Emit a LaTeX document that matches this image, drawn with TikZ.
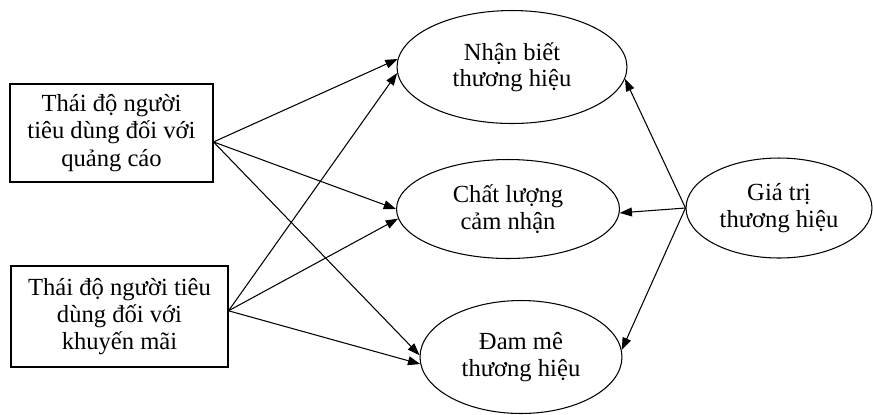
\documentclass[tikz,border=0pt]{standalone}
\usepackage{fontspec}
\setmainfont{Liberation Serif}
\usepackage{tikz}
\usetikzlibrary{shapes.geometric,arrows.meta}
\tikzset{
    attitude-box/.style = {draw, rectangle, line width=0.6pt, align=center, inner sep=0pt, font=\fontsize{14}{15.5}\selectfont},
    brand-oval/.style = {draw, ellipse, line width=0.6pt, align=center, inner sep=0pt, font=\fontsize{14}{15}\selectfont},
    effect-arrow/.style = {-{Triangle[length=7pt,width=5pt]}, line width=0.6pt},
}

\begin{document}
\begin{tikzpicture}[x=0.02cm, y=-0.02cm]
\useasboundingbox (0,0) rectangle (873,414);
% left boxes
\node [attitude-box, minimum width=4.06cm, minimum height=1.96cm] (qc) at (111.5,133) {Thái độ người\\tiêu dùng đối với\\quảng cáo};
\node [attitude-box, minimum width=4.34cm, minimum height=2.02cm] (km) at (119.5,316.5) {Thái độ người tiêu\\dùng đối với\\khuyến mãi};
% middle ovals
\node [brand-oval, minimum width=4.6cm, minimum height=2.26cm] (nb) at (512,67) {Nhận biết\\thương hiệu};
\node [brand-oval, minimum width=4.46cm, minimum height=1.98cm] (cl) at (508,209) {Chất lượng\\cảm nhận};
\node [brand-oval, minimum width=4.04cm, minimum height=2.26cm] (dm) at (521,357) {Đam mê\\thương hiệu};
% right oval
\node [brand-oval, minimum width=3.72cm, minimum height=2.0cm] (gt) at (779,208) {Giá trị\\thương hiệu};

\draw [effect-arrow] (qc.-5) -- (nb.176);
\draw [effect-arrow] (qc.-5) -- (cl.180);
\draw [effect-arrow] (qc.-5) -- (dm.179);
\draw [effect-arrow] (km.3) -- (nb.183);
\draw [effect-arrow] (km.3) -- (cl.185);
\draw [effect-arrow] (km.3) -- (dm.184);

\draw [effect-arrow] (gt.west) -- (nb.-6);
\draw [effect-arrow] (gt.west) -- (cl.-2);
\draw [effect-arrow] (gt.west) -- (dm.4);
\end{tikzpicture}
\end{document}
